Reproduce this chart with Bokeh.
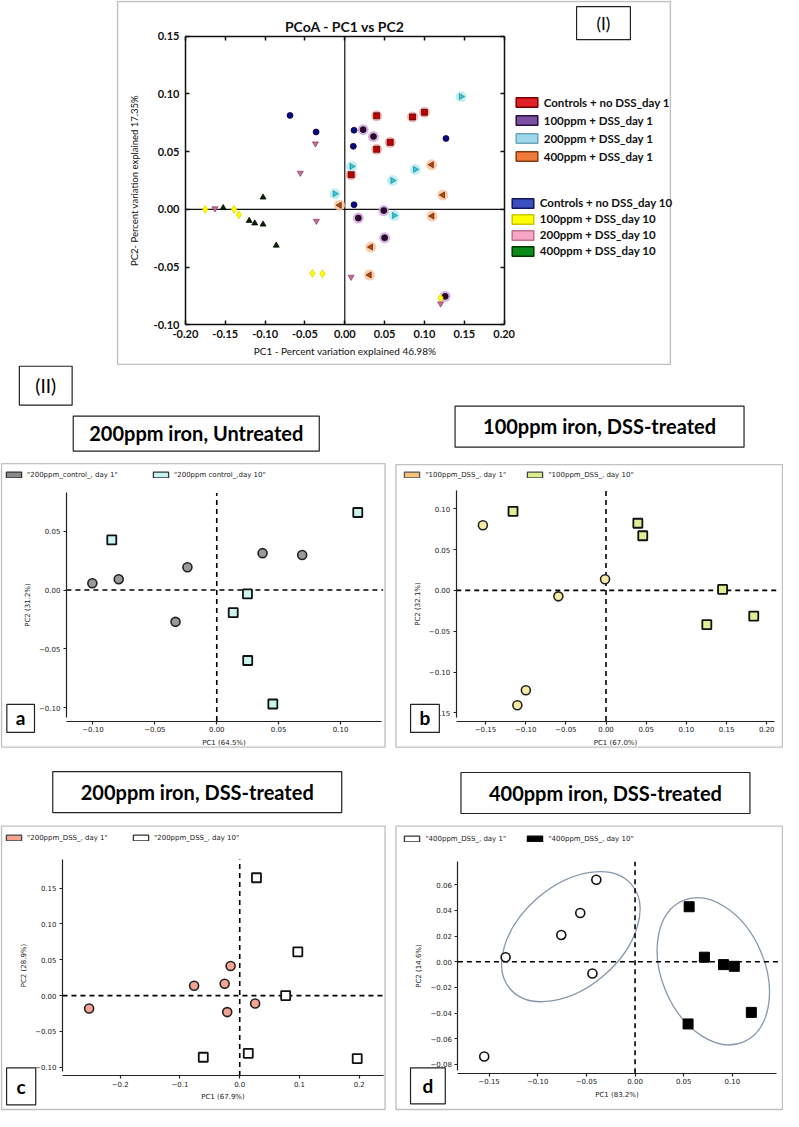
import math
from bokeh.plotting import figure
from bokeh.models import Range1d, LinearAxis, FixedTicker, Legend, LegendItem, Label, BoxAnnotation
from bokeh.layouts import column, row
from bokeh.embed import file_html
from bokeh.resources import INLINE

NAN = float("nan")

# ---------------- data: panel (I) ----------------
ctrl_d1_x = [0.040, 0.085, 0.100, 0.057, 0.040, 0.008]
ctrl_d1_y = [0.081, 0.080, 0.084, 0.058, 0.052, 0.030]
p100_d1_x = [0.023, 0.036, 0.049, 0.017, 0.050, 0.126]
p100_d1_y = [0.069, 0.063, -0.001, -0.0075, -0.0246, -0.0753]
p200_d1_x = [0.146, 0.0885, 0.060, 0.0087, -0.0124, 0.062]
p200_d1_y = [0.0976, 0.0346, 0.025, 0.0372, 0.0135, -0.0053]
p400_d1_x = [0.109, 0.123, 0.1096, -0.0066, 0.0327, 0.031]
p400_d1_y = [0.0386, 0.0124, -0.0058, 0.0036, -0.0326, -0.0568]
ctrl_d10_x = [-0.0687, -0.036, 0.0116, 0.0107, 0.0116, 0.127]
ctrl_d10_y = [0.0813, 0.067, 0.0685, 0.0546, 0.004, 0.0614]
p100_d10_x = [-0.175, -0.139, -0.133, -0.0405, -0.028, 0.1203]
p100_d10_y = [0.000, 0.000, -0.0047, -0.0554, -0.0557, -0.0768]
p200_d10_x = [-0.0368, -0.0558, -0.0356, -0.163, 0.0079, 0.1203]
p200_d10_y = [0.0569, 0.0315, -0.0101, 0.0007, -0.0585, -0.0816]
p400_d10_x = [-0.1526, -0.1026, -0.120, -0.113, -0.1026, -0.086]
p400_d10_y = [0.0013, 0.0104, -0.0098, -0.012, -0.013, -0.0312]

top_legend1 = ["Controls + no DSS_day 1", "100ppm + DSS_day 1", "200ppm + DSS_day 1", "400ppm + DSS_day 1"]
top_legend2 = ["Controls + no DSS_day 10", "100ppm + DSS_day 10", "200ppm + DSS_day 10", "400ppm + DSS_day 10"]
top_xticks = [-0.20, -0.15, -0.10, -0.05, 0.00, 0.05, 0.10, 0.15, 0.20]
top_xlabels = ["-0.20", "-0.15", "-0.10", "-0.05", "0.00", "0.05", "0.10", "0.15", "0.20"]
top_yticks = [-0.10, -0.05, 0.00, 0.05, 0.10, 0.15]
top_ylabels = ["-0.10", "-0.05", "0.00", "0.05", "0.10", "0.15"]

# ---------------- data: panel a ----------------
a_d1_x = [-0.1005, -0.0792, -0.0237, -0.0333, 0.037, 0.069]
a_d1_y = [0.0058, 0.0092, 0.0194, -0.027, 0.0313, 0.0297]
a_d10_x = [-0.0848, 0.1139, 0.0248, 0.0133, 0.025, 0.0453]
a_d10_y = [0.0425, 0.0658, -0.0033, -0.0192, -0.0598, -0.0967]
a_legend = ["\"200ppm_control_, day 1\"", "\"200ppm control_,day 10\""]
a_xticks = [-0.10, -0.05, 0.00, 0.05, 0.10]
a_xlabels = ["\u22120.10", "\u22120.05", "0.00", "0.05", "0.10"]
a_yticks = [-0.10, -0.05, 0.00, 0.05]
a_ylabels = ["\u22120.10", "\u22120.05", "0.00", "0.05"]

# ---------------- data: panel b ----------------
b_d1_x = [-0.1532, -0.0593, -0.0012, -0.0997, -0.1103]
b_d1_y = [0.0799, -0.0073, 0.0137, -0.1223, -0.1408]
b_d10_x = [-0.1157, 0.0396, 0.0457, 0.145, 0.1254, 0.1838]
b_d10_y = [0.0969, 0.0823, 0.067, 0.0012, -0.042, -0.0315]
b_legend = ["\"100ppm_DSS_, day 1\"", "\"100ppm_DSS_, day 10\""]
b_xticks = [-0.15, -0.10, -0.05, 0.00, 0.05, 0.10, 0.15, 0.20]
b_xlabels = ["\u22120.15", "\u22120.10", "\u22120.05", "0.00", "0.05", "0.10", "0.15", "0.20"]
b_yticks = [-0.15, -0.10, -0.05, 0.00, 0.05, 0.10]
b_ylabels = ["\u22120.15", "\u22120.10", "\u22120.05", "0.00", "0.05", "0.10"]

# ---------------- data: panel c ----------------
c_d1_x = [-0.252, -0.0763, -0.0252, -0.0153, -0.0209, 0.0258]
c_d1_y = [-0.0179, 0.0138, 0.0165, 0.0413, -0.023, -0.011]
c_d10_x = [0.028, 0.0972, 0.0769, -0.061, 0.0143, 0.1966]
c_d10_y = [0.1643, 0.061, 0.0, -0.0859, -0.0804, -0.0877]
c_legend = ["\"200ppm_DSS_, day 1\"", "\"200ppm_DSS_, day 10\""]
c_xticks = [-0.2, -0.1, 0.0, 0.1, 0.2]
c_xlabels = ["\u22120.2", "\u22120.1", "0.0", "0.1", "0.2"]
c_yticks = [-0.10, -0.05, 0.00, 0.05, 0.10, 0.15]
c_ylabels = ["\u22120.10", "\u22120.05", "0.00", "0.05", "0.10", "0.15"]

# ---------------- data: panel d ----------------
d_d1_x = [-0.0398, -0.0563, -0.0758, -0.133, -0.0438, -0.155]
d_d1_y = [0.0638, 0.0379, 0.0208, 0.0035, -0.0092, -0.0738]
d_d10_x = [0.0556, 0.0713, 0.0909, 0.102, 0.1195, 0.0545]
d_d10_y = [0.0428, 0.0035, -0.0023, -0.0036, -0.0395, -0.0485]
d_ell_x = [-0.066, 0.0804]
d_ell_y = [0.0195, -0.0075]
d_ell_w = [0.1646, 0.158]
d_ell_h = [0.0794, 0.0802]
d_ell_angle = [0.712, 1.977]
d_legend = ["\"400ppm_DSS_, day 1\"", "\"400ppm_DSS_, day 10\""]
d_xticks = [-0.15, -0.10, -0.05, 0.00, 0.05, 0.10]
d_xlabels = ["\u22120.15", "\u22120.10", "\u22120.05", "0.00", "0.05", "0.10"]
d_yticks = [-0.08, -0.06, -0.04, -0.02, 0.00, 0.02, 0.04, 0.06]
d_ylabels = ["\u22120.08", "\u22120.06", "\u22120.04", "\u22120.02", "0.00", "0.02", "0.04", "0.06"]

titles = ["200ppm iron, Untreated", "100ppm iron, DSS-treated", "200ppm iron, DSS-treated", "400ppm iron, DSS-treated"]


# ---------------- layout helpers ----------------
def PX(rx):
    return 8 + (rx - 1) * 783 / 796


def PY(ry):
    return 8 + (ry - 2) * 1111 / 1125


class Panel:
    """Figure whose frame is the whole canvas; the framed box is drawn as a BoxAnnotation."""

    def __init__(self, canvas, fref, xa, ya):
        cl, ct, cr, cb = canvas
        self.cl, self.ct, self.cr, self.cb = cl, ct, cr, cb
        sx = (PX(xa[3]) - PX(xa[1])) / (xa[2] - xa[0])
        sy = (PY(ya[3]) - PY(ya[1])) / (ya[0] - ya[2])
        self.sx, self.sy = sx, sy
        self.x0 = xa[0] - (PX(xa[1]) - cl) / sx
        x1 = self.x0 + (cr - cl) / sx
        self.y1 = ya[0] + (PY(ya[1]) - ct) / sy
        y0 = self.y1 - (cb - ct) / sy
        p = figure(width=cr - cl, height=cb - ct,
                   x_range=Range1d(self.x0, x1), y_range=Range1d(y0, self.y1),
                   min_border=0, min_border_left=0, min_border_right=0,
                   min_border_top=0, min_border_bottom=0,
                   x_axis_location=None, y_axis_location=None, title_location=None,
                   toolbar_location=None, output_backend="svg")
        p.grid.grid_line_color = None
        p.outline_line_color = None
        p.background_fill_color = "white"
        p.border_fill_color = "white"
        self.p = p
        bl = max(PX(fref[0]), cl + 1)
        bt = max(PY(fref[1]), ct + 1)
        br = min(PX(fref[2]), cr - 1)
        bb = min(PY(fref[3]), cb - 1)
        p.add_layout(BoxAnnotation(left=self.xp(bl), right=self.xp(br), top=self.yp(bt), bottom=self.yp(bb),
                                   fill_color=None, fill_alpha=0, line_color="#333333", line_width=1.4,
                                   level="underlay"))

    def xp(self, px):
        return self.x0 + (px - self.cl) / self.sx

    def yp(self, py):
        return self.y1 - (py - self.ct) / self.sy

    def dx(self, rx):
        return self.xp(PX(rx))

    def dy(self, ry):
        return self.yp(PY(ry))

    def lx(self, rx):
        return PX(rx) - self.cl

    def ly(self, ry):
        return self.cb - PY(ry)


def add_axis(p, side, loc, bounds, ticks, labels, font="DejaVu Sans", size="7px", style="normal",
             tin=0, tout=3, lstand=3, title=None, tsize="7px", tstyle="normal", tstand=4,
             lw=1.2, show=True, color="#222222", tfont=None):
    ax = LinearAxis(fixed_location=loc, bounds=bounds,
                    ticker=FixedTicker(ticks=ticks, minor_ticks=[]),
                    major_label_overrides={t: l for t, l in zip(ticks, labels)})
    ax.major_tick_in = tin
    ax.major_tick_out = tout
    ax.minor_tick_line_color = None
    ax.axis_line_width = lw
    ax.major_tick_line_width = lw
    ax.axis_line_color = color
    ax.major_tick_line_color = color
    ax.major_label_standoff = lstand
    ax.major_label_text_font = font
    ax.major_label_text_font_size = size
    ax.major_label_text_font_style = style
    ax.major_label_text_color = color if show else None
    if title:
        ax.axis_label = title
        ax.axis_label_text_font = tfont or font
        ax.axis_label_text_font_size = tsize
        ax.axis_label_text_font_style = tstyle
        ax.axis_label_standoff = tstand
        ax.axis_label_text_color = color
    p.add_layout(ax, side)
    return ax


def boxed(p, x, y, text, size, font="Lato", style="bold", pad=(14, 14, 7, 7), lw=1.2):
    lab = Label(x=x, y=y, text=text, text_align="center", text_baseline="middle",
                text_font=font, text_font_size=size, text_font_style=style, text_color="black",
                border_line_color="#222222", border_line_width=lw, background_fill_color="white",
                padding=dict(left=pad[0], right=pad[1], top=pad[2], bottom=pad[3]))
    p.add_layout(lab)
    return lab


def swatch(p, fc, lc, lw):
    # legend-only renderer (a single undefined point, nothing is drawn)
    return p.quad(left=[NAN], right=[NAN], top=[NAN], bottom=[NAN], fill_color=fc, line_color=lc, line_width=lw)


# ---------------- panel (I) ----------------
T = Panel((8, 8, 791, 373), (120, 2, 682, 372), (-0.2, 189, 0.2, 513), (0.15, 38, -0.10, 330.5))
tp = T.p
XL = (-0.2, 0.2)
YL = (-0.10, 0.15)
add_axis(tp, "left", XL[0], YL, top_yticks, top_ylabels, font="Lato", size="11px", style="bold",
         tin=4, tout=0, lstand=6, title="PC2- Percent variation explained 17.35%", tsize="9.5px",
         tstand=11, lw=1.5, color="#111111")
add_axis(tp, "below", YL[0], XL, top_xticks, top_xlabels, font="Lato", size="11px", style="bold",
         tin=4, tout=0, lstand=5, title="PC1 - Percent variation explained 46.98%", tsize="10px",
         tstand=4, lw=1.5, color="#111111")
add_axis(tp, "right", XL[1], YL, top_yticks, top_ylabels, tin=4, tout=0, lw=1.5, show=False, color="#111111")
add_axis(tp, "above", YL[1], XL, top_xticks, top_xlabels, tin=4, tout=0, lw=1.5, show=False, color="#111111")
tp.segment(x0=[0.0, XL[0]], y0=[YL[0], 0.0], x1=[0.0, XL[1]], y1=[YL[1], 0.0],
           line_color="#111111", line_width=1.2)

top_groups = [
    (ctrl_d1_x, ctrl_d1_y, "square", 0.0, 6, "#c00000", "#400000", "#f2a8a8"),
    (p100_d1_x, p100_d1_y, "circle", 0.0, 6, "#2b0a2e", "#1a001a", "#cfa8de"),
    (p200_d1_x, p200_d1_y, "triangle", -math.pi / 2, 6, "#3cc3cf", "#1a8a96", "#b8ecf2"),
    (p400_d1_x, p400_d1_y, "triangle", math.pi / 2, 6, "#b8470e", "#5a2000", "#f8c6a0"),
    (ctrl_d10_x, ctrl_d10_y, "circle", 0.0, 6, "#0a0a80", "#000040", None),
    (p100_d10_x, p100_d10_y, "diamond", 0.0, 8, "#ffff00", "#d8d000", None),
    (p200_d10_x, p200_d10_y, "inverted_triangle", 0.0, 6, "#c86e98", "#8a3a60", None),
    (p400_d10_x, p400_d10_y, "triangle", 0.0, 6, "#002600", "#000000", None),
]
for gx, gy, mk, ang, sz, fc, lc, halo in top_groups:
    if halo:
        tp.scatter(gx, gy, marker="circle", size=11, fill_color=halo, fill_alpha=0.85, line_color=None)
for gx, gy, mk, ang, sz, fc, lc, halo in top_groups:
    tp.scatter(gx, gy, marker=mk, angle=ang, size=sz, fill_color=fc, line_color=lc, line_width=0.7)

sw1 = [("#e02027", "#7a0000"), ("#7b4fa3", "#2b1040"), ("#9fd6ea", "#6aa8c0"), ("#f07a3a", "#8a3a10")]
sw2 = [("#3c4fc0", "#10185a"), ("#ffff00", "#c8c800"), ("#f5a6c2", "#c07090"), ("#0a8a1a", "#003a00")]


def top_legend(labels, sws, swatch_left, first_center, spacing):
    items = []
    for lab, (fc, lc) in zip(labels, sws):
        items.append(LegendItem(label=lab, renderers=[swatch(tp, fc, lc, 1.5)]))
    gh = 12
    n = len(labels)
    top_y = PY(first_center) - gh / 2
    bottom = top_y + n * gh + (n - 1) * spacing
    lg = Legend(items=items, location=(T.lx(swatch_left) - 2.7, T.cb - bottom),
                orientation="vertical", padding=0, margin=0, spacing=spacing,
                glyph_width=27, glyph_height=gh, label_height=gh, label_standoff=4,
                label_text_font="Lato", label_text_font_size="11.5px", label_text_font_style="bold",
                label_text_color="#111111", border_line_color=None, background_fill_alpha=0)
    tp.add_layout(lg)


top_legend(top_legend1, sw1, 525, 109, 5)
top_legend(top_legend2, sw2, 521, 211, 3)

tp.add_layout(Label(x=0.0, y=T.dy(28), text="PCoA - PC1 vs PC2", text_align="center",
                    text_baseline="middle", text_font="Lato", text_font_size="14px",
                    text_font_style="bold", text_color="#111111"))
boxed(tp, T.dx(614), T.dy(25), "(I)", "17px", font="Lato", style="normal", pad=(20, 20, 6, 6))


# ---------------- panels (II) ----------------
def sub_panel(P, d1x, d1y, d10x, d10y, legend_labels, sw, m1, m10, xticks, xlabels, yticks, ylabels,
              spine_rx, spine_top_ry, spine_bot_ry, base_ry, right_rx, xtitle, ytitle,
              leg_rx, leg_ry, label_w, title, title_c, title_pad, letter, letter_c, letter_pad):
    p = P.p
    sx_ = P.dx(spine_rx)
    yt = P.dy(spine_top_ry)
    yb = P.dy(spine_bot_ry)
    by = P.dy(base_ry)
    xr = P.dx(right_rx)
    add_axis(p, "left", sx_, (yb, yt), yticks, ylabels, tout=3, lstand=3, title=ytitle, tstand=4)
    add_axis(p, "below", by, (sx_, xr), xticks, xlabels, tout=3, lstand=2, title=xtitle, tstand=3)
    p.segment(x0=[0.0], y0=[by], x1=[0.0], y1=[yt], line_color="black", line_width=1.6, line_dash="5 4")
    p.segment(x0=[sx_], y0=[0.0], x1=[P.dx(right_rx + 2)], y1=[0.0], line_color="black",
              line_width=1.6, line_dash="5 4")
    rs = [swatch(p, fc, lc, 1.3) for (fc, lc) in sw]
    p.scatter(d1x, d1y, **m1)
    p.scatter(d10x, d10y, **m10)
    gh = 7
    lg = Legend(items=[LegendItem(label=l, renderers=[r]) for l, r in zip(legend_labels, rs)],
                location=(P.lx(leg_rx) - 1.9, P.ly(leg_ry) - gh / 2), orientation="horizontal",
                padding=0, margin=0, spacing=0, glyph_width=19, glyph_height=gh, label_height=gh,
                label_standoff=4, label_width=label_w, label_text_font="DejaVu Sans",
                label_text_font_size="7px", label_text_color="#222222",
                border_line_color=None, background_fill_alpha=0)
    p.add_layout(lg)
    boxed(p, P.dx(title_c[0]), P.dy(title_c[1]), title, "20px", pad=title_pad)
    boxed(p, P.dx(letter_c[0]), P.dy(letter_c[1]), letter, "19px", pad=letter_pad)
    return p


A = Panel((8, 373, 400, 757), (1, 471, 392, 758), (-0.10, 95, 0.10, 346.7), (0.05, 539.3, -0.10, 718.3))
B = Panel((400, 373, 791, 757), (403, 472, 797, 758), (-0.15, 494, 0.20, 780), (0.10, 516.7, -0.15, 723.3))
C = Panel((8, 757, 400, 1119), (1, 838, 392, 1125), (-0.2, 122.7, 0.2, 365.7), (0.15, 900.7, -0.10, 1082.3))
D = Panel((400, 757, 791, 1119), (403, 838, 797, 1125), (-0.15, 497.7, 0.10, 745), (0.06, 897.3, -0.08, 1079.3))

circ = dict(marker="circle", size=9, line_color="#222222", line_width=1.6)
sq = dict(marker="square", size=9, line_color="#111111", line_width=1.8)

sub_panel(A, a_d1_x, a_d1_y, a_d10_x, a_d10_y, a_legend,
          [("#8c8c8c", "#333333"), ("#c4f2f0", "#333333")],
          dict(circ, fill_color="#9a9a9a"), dict(sq, fill_color="#cdf3ef"),
          a_xticks, a_xlabels, a_yticks, a_ylabels,
          68, 500.7, 728, 731.7, 388, "PC1 (64.5%)", "PC2 (31.2%)",
          7, 483, 124, titles[0], (200, 440.5), (16, 16, 5, 6), "a", (21.5, 729), (9, 9, 2, 3))
sub_panel(B, b_d1_x, b_d1_y, b_d10_x, b_d10_y, b_legend,
          [("#f3c477", "#555555"), ("#d9ef8e", "#444444")],
          dict(circ, fill_color="#f7eba6"), dict(sq, fill_color="#dcef92"),
          b_xticks, b_xlabels, b_yticks, b_ylabels,
          464.3, 498.3, 728, 731.7, 788, "PC1 (67.0%)", "PC2 (32.1%)",
          412, 483, 100, titles[1], (610, 433.5), (28, 28, 8, 9), "b", (432.5, 729), (9, 9, 2, 3))
sub_panel(C, c_d1_x, c_d1_y, c_d10_x, c_d10_y, c_legend,
          [("#f6a491", "#444444"), ("#ffffff", "#333333")],
          dict(circ, fill_color="#f4a494"), dict(sq, fill_color="white"),
          c_xticks, c_xlabels, c_yticks, c_ylabels,
          64, 871.7, 1087, 1091, 390.7, "PC1 (67.9%)", "PC2 (28.9%)",
          7, 851, 104, titles[2], (201, 803.5), (28, 28, 8, 9), "c", (22, 1101.5), (10, 10, 7, 7))
sub_panel(D, d_d1_x, d_d1_y, d_d10_x, d_d10_y, d_legend,
          [("#ffffff", "#333333"), ("#000000", "#000000")],
          dict(circ, fill_color="white", line_color="#111111"),
          dict(marker="square", size=10, fill_color="black", line_color="black", line_width=1),
          d_xticks, d_xlabels, d_yticks, d_ylabels,
          466, 874, 1085, 1088.3, 790, "PC1 (83.2%)", "PC2 (14.6%)",
          412, 852, 100, titles[3], (616, 804.5), (28, 28, 8, 9), "d", (435.5, 1101), (12, 12, 6, 7))
D.p.ellipse(x=d_ell_x, y=d_ell_y, width=d_ell_w, height=d_ell_h, angle=d_ell_angle,
            fill_color=None, line_color="#8797ab", line_width=1.3, level="underlay")

boxed(A.p, A.dx(47), A.dy(392), "(II)", "19px", font="Lato", style="normal", pad=(16, 16, 8, 8))

layout = column(T.p, row(A.p, B.p), row(C.p, D.p))
open("out.html", "w").write(file_html(layout, INLINE))
